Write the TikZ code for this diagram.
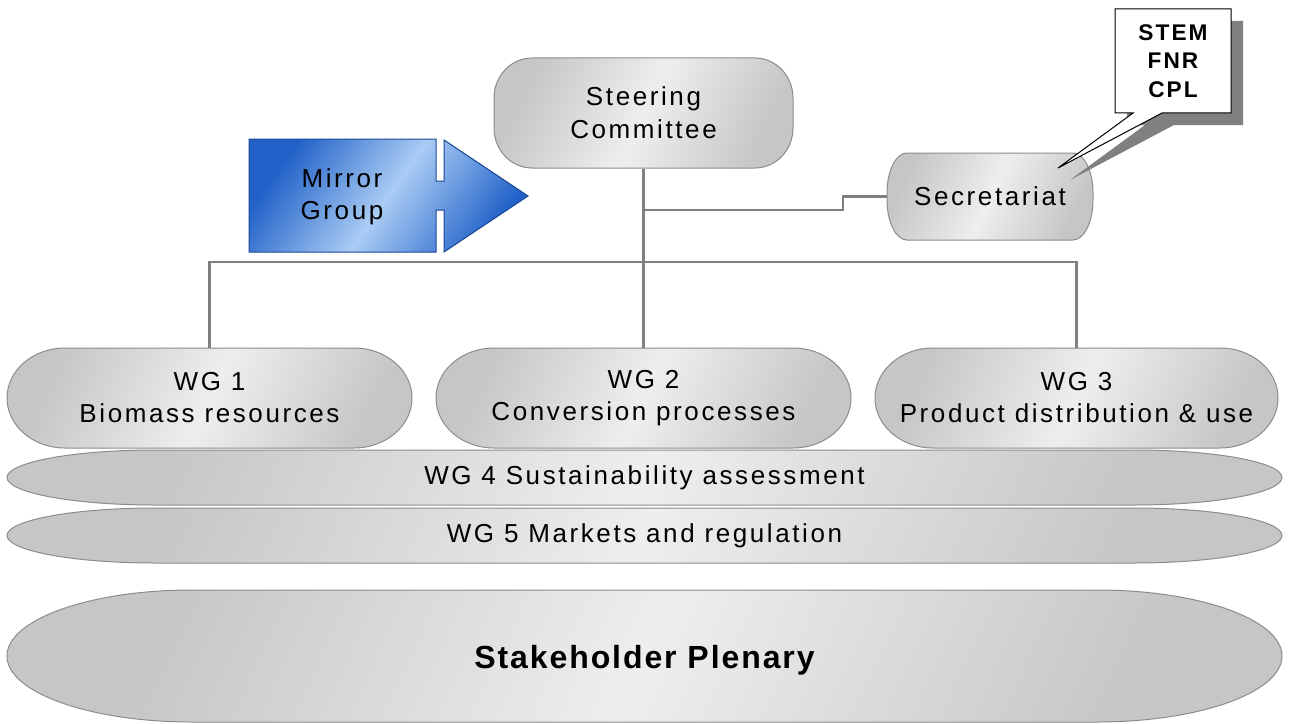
\documentclass[tikz,border=0pt]{standalone}
\usepackage{fontspec}
\setmainfont{Liberation Sans}[LetterSpace=10]
\newfontfamily\plenfont{Liberation Sans}[LetterSpace=6]
\newfontfamily\notefont{Liberation Sans}[LetterSpace=9]

\definecolor{silverdark}{RGB}{198,198,198}
\definecolor{silverlight}{RGB}{238,238,238}
\definecolor{edgegray}{RGB}{140,140,140}
\definecolor{linkgray}{RGB}{128,128,128}
\definecolor{shadowgray}{RGB}{128,128,128}
\definecolor{mirrordark}{RGB}{34,98,200}
\definecolor{mirrorlight}{RGB}{170,204,244}
\definecolor{mirroredge}{RGB}{28,72,150}

% capsule outline: x1,y1,x2,y2,rx,ry
\newcommand{\pillpath}[6]{({#1+#5},#2) -- ({#3-#5},#2) arc[start angle=-90,end angle=0,x radius=#5,y radius=#6] -- (#3,{#4-#6}) arc[start angle=0,end angle=90,x radius=#5,y radius=#6] -- ({#1+#5},#4) arc[start angle=90,end angle=180,x radius=#5,y radius=#6] -- (#1,{#2+#6}) arc[start angle=180,end angle=270,x radius=#5,y radius=#6] -- cycle}

\tikzset{every picture/.style={line width=0.75pt}}
\tikzset{
  silver/.style={draw=edgegray, left color=silverdark, right color=silverdark, middle color=silverlight, shading angle=65},
  mirrorfill/.style={draw=mirroredge, left color=mirrordark, right color=mirrordark, middle color=mirrorlight, shading angle=55},
  wgtext/.style={inner sep=0pt, align=center, font=\fontsize{19.5}{24}\selectfont},
  sized/.style 2 args={minimum width=#1*0.75pt, minimum height=#2*0.75pt},
  link/.style={draw=linkgray, line width=2pt}
}

\begin{document}
\begin{tikzpicture}[x=0.75pt,y=0.75pt,yscale=-1,xscale=1]
  \useasboundingbox (0,0) rectangle (1289,724);

  %Rounded Rect: steering committee
  \draw [silver] \pillpath{494}{58}{793}{168}{38}{40};
  \draw (643.5,113) node (steer) [wgtext, sized={299}{110}] {Steering\\[1pt]Committee};
  %Rounded Rect: secretariat
  \draw [silver] \pillpath{887}{153}{1093}{240}{20}{40};
  \draw (990,196.5) node (secr) [wgtext, sized={206}{87}] {Secretariat};

  %Shape: mirror group arrow
  \draw [mirrorfill] (249,139) -- (436,139) -- (436,181) -- (444,181) -- (444,140) -- (528,196) -- (444,252) -- (444,210) -- (436,210) -- (436,252) -- (249,252) -- cycle;
  \draw (342,197) node (mirror) [wgtext] {Mirror\\Group};

  %Working groups
  \draw [silver] \pillpath{7}{348}{412}{448}{58}{50};
  \draw (209.5,398) node (wg1) [wgtext, sized={405}{100}] {WG 1\\Biomass resources};
  \draw [silver] \pillpath{436}{348}{851}{448}{58}{50};
  \draw (643.5,398) node (wg2) [wgtext, sized={415}{100}] {WG 2\\Conversion processes};
  \draw [silver] \pillpath{875}{348}{1278}{448}{58}{50};
  \draw (1076.5,398) node (wg3) [wgtext, sized={403}{100}] {WG 3\\Product distribution \& use};

  %Cross-cutting bands
  \draw [silver] \pillpath{7}{450}{1282}{505}{148}{27.5};
  \draw (644.5,478) node (wg4) [wgtext] {WG 4 Sustainability assessment};
  \draw [silver] \pillpath{7}{508}{1282}{563}{148}{27.5};
  \draw (644.5,536) node (wg5) [wgtext] {WG 5 Markets and regulation};
  \draw [silver] \pillpath{7}{590}{1282}{722}{185}{66};
  \draw (644.5,660) node (plenary) [inner sep=0pt, font=\plenfont\bfseries\fontsize{24}{28}\selectfont] {Stakeholder Plenary};

  %Connectors
  \coordinate (bus) at (643.5,262);
  \coordinate (tee) at (643.5,210);
  \draw [link] (steer) -- (wg2);
  \draw [link] (wg1) |- (bus) -| (wg3);
  \draw [link] (tee) -- (843,210) |- (secr);

  %Callout with shadow
  \draw [draw=none, fill=shadowgray] (1127,21) -- (1243,21) -- (1243,125) -- (1174,125) -- (1070,180) -- (1145,125) -- (1127,125) -- cycle;
  \draw [fill=white] (1115,9) -- (1231,9) -- (1231,113) -- (1162,113) -- (1058,168) -- (1133,113) -- (1115,113) -- cycle;
  \draw (1173,61) node (stem) [inner sep=0pt, align=center, font=\notefont\bfseries\fontsize{17}{21.5}\selectfont] {STEM\\FNR\\CPL};

\end{tikzpicture}
\end{document}
